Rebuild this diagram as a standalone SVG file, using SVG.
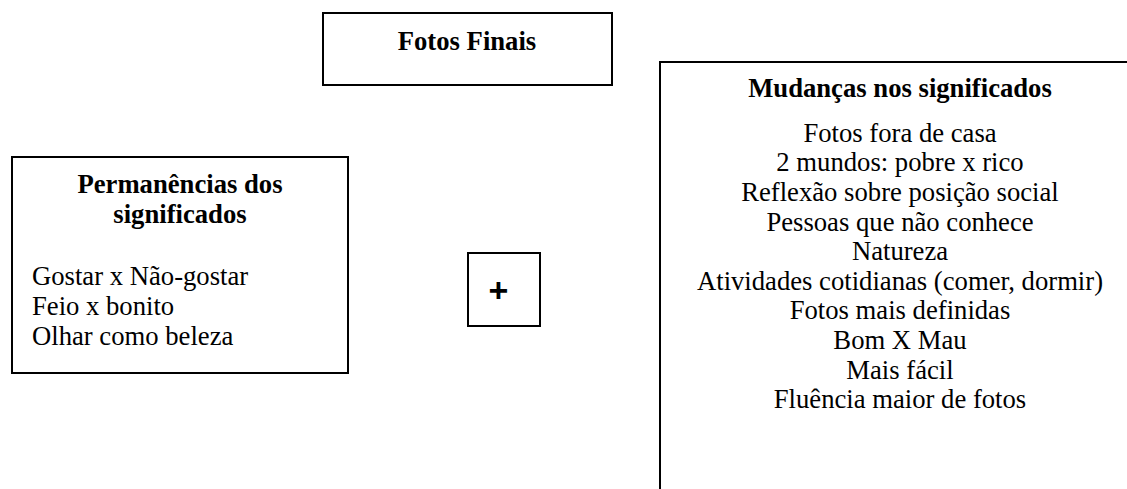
<svg xmlns="http://www.w3.org/2000/svg" width="1127" height="489" viewBox="0 0 1127 489">
  <style>
    .box { fill: #ffffff; stroke: #000000; stroke-width: 2; }
    .t { font-family: "Liberation Serif", "Times New Roman", serif; font-size: 26.67px; fill: #000000; }
    .b { font-weight: bold; }
    .c { text-anchor: middle; }
    .plus { font-family: "Liberation Sans", Arial, sans-serif; font-size: 34px; font-weight: bold; text-anchor: middle; fill: #000000; }
  </style>
  <rect width="1127" height="489" fill="#ffffff"/>

  <g id="fotos-finais">
    <rect class="box" x="323" y="13" width="289" height="72"/>
    <text class="t b c" x="467" y="50">Fotos Finais</text>
  </g>

  <g id="permanencias">
    <rect class="box" x="12" y="157" width="336" height="216"/>
    <text class="t b c" x="180" y="193">Permanências dos</text>
    <text class="t b c" x="180" y="223">significados</text>
    <text class="t" x="32" y="285">Gostar x Não-gostar</text>
    <text class="t" x="32" y="315">Feio x bonito</text>
    <text class="t" x="32" y="345">Olhar como beleza</text>
  </g>

  <g id="soma">
    <rect class="box" x="468" y="253" width="72" height="73"/>
    <text class="plus" x="498.5" y="302">+</text>
  </g>

  <g id="mudancas">
    <path class="box" d="M660 490 V62 H1128"/>
    <text class="t b c" x="900" y="97">Mudanças nos significados</text>
    <text class="t c" x="900" y="141.7">Fotos fora de casa</text>
    <text class="t c" x="900" y="171.3">2 mundos: pobre x rico</text>
    <text class="t c" x="900" y="200.9">Reflexão sobre posição social</text>
    <text class="t c" x="900" y="230.5">Pessoas que não conhece</text>
    <text class="t c" x="900" y="260.1">Natureza</text>
    <text class="t c" x="900" y="289.7">Atividades cotidianas (comer, dormir)</text>
    <text class="t c" x="900" y="319.3">Fotos mais definidas</text>
    <text class="t c" x="900" y="348.9">Bom X Mau</text>
    <text class="t c" x="900" y="378.5">Mais fácil</text>
    <text class="t c" x="900" y="408.1">Fluência maior de fotos</text>
  </g>

  <g id="connectors"></g>
</svg>
